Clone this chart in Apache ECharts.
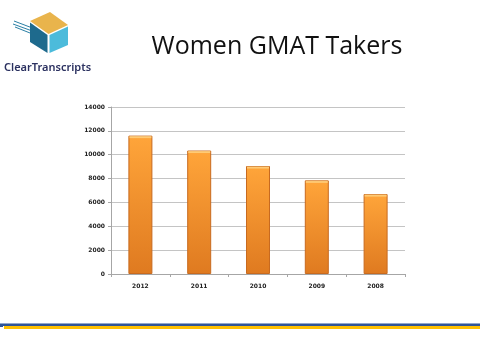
<!DOCTYPE html>
<html>
<head>
<meta charset="utf-8">
<script src="https://cdn.jsdelivr.net/npm/echarts@6/dist/echarts.min.js"></script>
<style>html,body{margin:0;padding:0;background:#fff;}#c{width:480px;height:360px;}</style>
</head>
<body>
<div id="c"></div>
<script>
const categories = ['2012', '2011', '2010', '2009', '2008'];
const takers = [11600, 10350, 9050, 7850, 6700];
const yTicks = [0, 2000, 4000, 6000, 8000, 10000, 12000, 14000];

const chart = echarts.init(document.getElementById('c'));
chart.setOption({
  backgroundColor: '#ffffff',
  animation: false,
  title: {
    text: 'Women GMAT Takers',
    left: 272, top: 29, textAlign: 'center',
    textStyle: { fontFamily: 'Open Sans', fontSize: 25, fontWeight: 'normal', color: '#111111' }
  },
  grid: { left: 111, right: 75, top: 107, bottom: 86 },
  xAxis: {
    type: 'category', data: categories,
    axisLine: { lineStyle: { color: '#a6a6a6', width: 1 } },
    axisTick: { show: true, alignWithLabel: false, length: 3, lineStyle: { color: '#a6a6a6' } },
    axisLabel: { fontSize: 6, fontWeight: 'bold', color: '#222', margin: 9, fontFamily: 'DejaVu Sans' }
  },
  yAxis: {
    type: 'value', min: yTicks[0], max: yTicks[yTicks.length - 1], interval: 2000,
    axisLine: { show: true, lineStyle: { color: '#a6a6a6', width: 1 } },
    axisTick: { show: true, length: 3, lineStyle: { color: '#a6a6a6' } },
    splitLine: { lineStyle: { color: '#c4c4c4', width: 1 } },
    axisLabel: { fontSize: 6, fontWeight: 'bold', color: '#222', margin: 6, fontFamily: 'DejaVu Sans',
      formatter: function (v) { return String(v); } }
  },
  series: [{
    type: 'bar', data: takers, barWidth: 24,
    itemStyle: {
      color: new echarts.graphic.LinearGradient(0, 0, 0, 1, [
        { offset: 0, color: '#ffa53a' },
        { offset: 1, color: '#df7a20' }
      ]),
      borderColor: '#c86a1f', borderWidth: 1
    }
  }, {
    type: 'scatter', data: takers, symbol: 'rect', symbolSize: [22, 2], symbolOffset: [0, 1.5],
    itemStyle: { color: '#ffd484' }, silent: true, z: 3
  }],
  graphic: [
    // logo speed lines
    { type: 'line', shape: { x1: 14, y1: 21, x2: 35, y2: 29 }, style: { stroke: '#2a7fa5', lineWidth: 1 } },
    { type: 'line', shape: { x1: 13, y1: 24, x2: 35, y2: 32 }, style: { stroke: '#2a7fa5', lineWidth: 1 } },
    { type: 'line', shape: { x1: 15, y1: 27, x2: 35, y2: 35 }, style: { stroke: '#2a7fa5', lineWidth: 1 } },
    // cube faces
    { type: 'polygon', shape: { points: [[30, 21], [50, 12], [68, 25], [48.5, 34]] }, style: { fill: '#e9b44c' } },
    { type: 'polygon', shape: { points: [[30, 22.5], [47.5, 35], [47.5, 53], [30, 42]] }, style: { fill: '#1e6a8d' } },
    { type: 'polygon', shape: { points: [[49.5, 35], [68, 26.5], [68, 45], [49.5, 53]] }, style: { fill: '#4cbbdb' } },
    { type: 'text', left: 4, top: 62, style: { text: 'ClearTranscripts', fontFamily: 'Noto Sans', fontSize: 11, fontWeight: 600, fill: '#2b3160' } },
    // bottom rules
    { type: 'rect', shape: { x: 0, y: 323, width: 480, height: 1 }, style: { fill: '#8fa6cc' } },
    { type: 'rect', shape: { x: 0, y: 324, width: 480, height: 2 }, style: { fill: '#2f5597' } },
    { type: 'rect', shape: { x: 0, y: 326, width: 3, height: 1 }, style: { fill: '#2f5597' } },
    { type: 'rect', shape: { x: 4, y: 326, width: 476, height: 3 }, style: { fill: '#ffc000' } }
  ]
});
</script>
</body>
</html>
